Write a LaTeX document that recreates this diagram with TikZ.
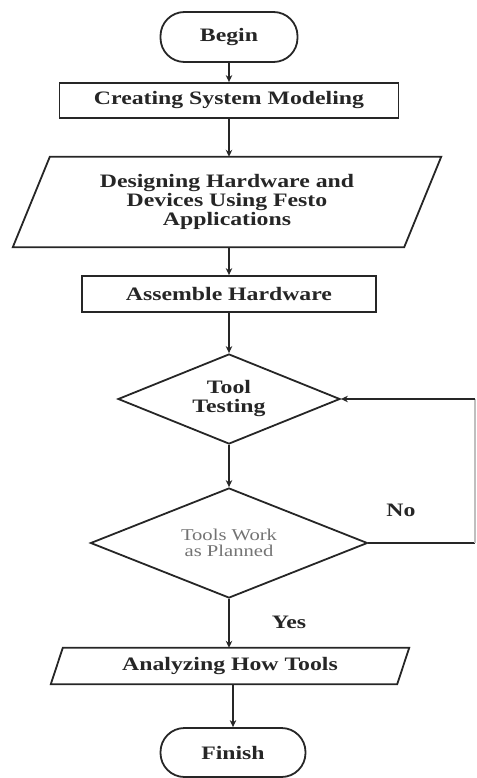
\documentclass[tikz,border=0pt]{standalone}
\usepackage{fontspec}
\setmainfont[FakeStretch=1.25]{Liberation Serif}
\usetikzlibrary{shapes.geometric,arrows.meta,calc}
\begin{document}
\begin{tikzpicture}[x=1pt,y=-1pt,
  ln/.style={draw=black!85, line width=1.8pt},
  txt/.style={font=\fontsize{19}{19}\selectfont\bfseries, align=center, text=black!85},
  term/.style={ln, txt, rounded corners=24pt, minimum height=50pt, inner sep=0pt},
  proc/.style={ln, txt, minimum height=36pt, inner sep=0pt},
  io/.style={txt, inner sep=0pt},
  dec/.style={ln, diamond, shape aspect=2.5, inner sep=0pt, align=center},
  arr/.style={draw=black!85, line width=1.8pt, -{Stealth[length=7pt,width=6.5pt]}},
  faint/.style={draw=black!25, line width=1.2pt},
  lab/.style={txt}
]
\useasboundingbox (0,0) rectangle (476,778);
\node[term, minimum width=137pt] (begin) at (229,37) {Begin};
\node[proc, minimum width=339pt, minimum height=35pt] (create) at (229,100.5) {Creating System Modeling};
\node[io, minimum width=391pt, minimum height=90pt] (design) at (227,202) {Designing Hardware and\\Devices Using Festo\\Applications};
\draw[ln] ($(design.north west)+(18.5,0)$) -- ($(design.north east)+(18.5,0)$) -- ($(design.south east)+(-18.5,0)$) -- ($(design.south west)+(-18.5,0)$) -- cycle;
\node[proc, minimum width=294pt] (assemble) at (229,294) {Assemble Hardware};
\node[dec, txt, minimum width=222pt, minimum height=90pt] (tool) at (229,399) {Tool\\Testing};
\node[dec, minimum width=277pt, minimum height=110pt, align=center, font=\fontsize{16.5}{16}\selectfont, text=black!55] (work) at (229,543) {Tools Work\\as Planned};
\node[io, minimum width=346pt, minimum height=36pt] (analyze) at (230,666) {Analyzing How Tools};
\draw[ln] ($(analyze.north west)+(6,0)$) -- ($(analyze.north east)+(6,0)$) -- ($(analyze.south east)+(-6,0)$) -- ($(analyze.south west)+(-6,0)$) -- cycle;
\node[term, minimum width=145pt, minimum height=49pt] (finish) at (233,752.5) {Finish};
\node[lab] (no) at (401,510) {No};
\node[lab] (yes) at (289,622) {Yes};
\coordinate (cr) at (475,543);
\coordinate (cr2) at (475,399);
\draw[arr] (begin.south) -- (begin.south |- create.north);
\draw[arr] (create.south) -- (create.south |- design.north);
\draw[arr] (create.south |- design.south) -- (assemble.north);
\draw[arr] (assemble.south) -- (tool.north);
\draw[arr] (tool.south) -- (work.north);
\draw[arr] (work.south) -- (work.south |- analyze.north);
\draw[arr] (finish.north |- analyze.south) -- (finish.north);
\draw[ln] (work.east) -- (cr);
\draw[faint] (cr) -- (cr2);
\draw[arr] (cr2) -- (tool.east);
\end{tikzpicture}
\end{document}
